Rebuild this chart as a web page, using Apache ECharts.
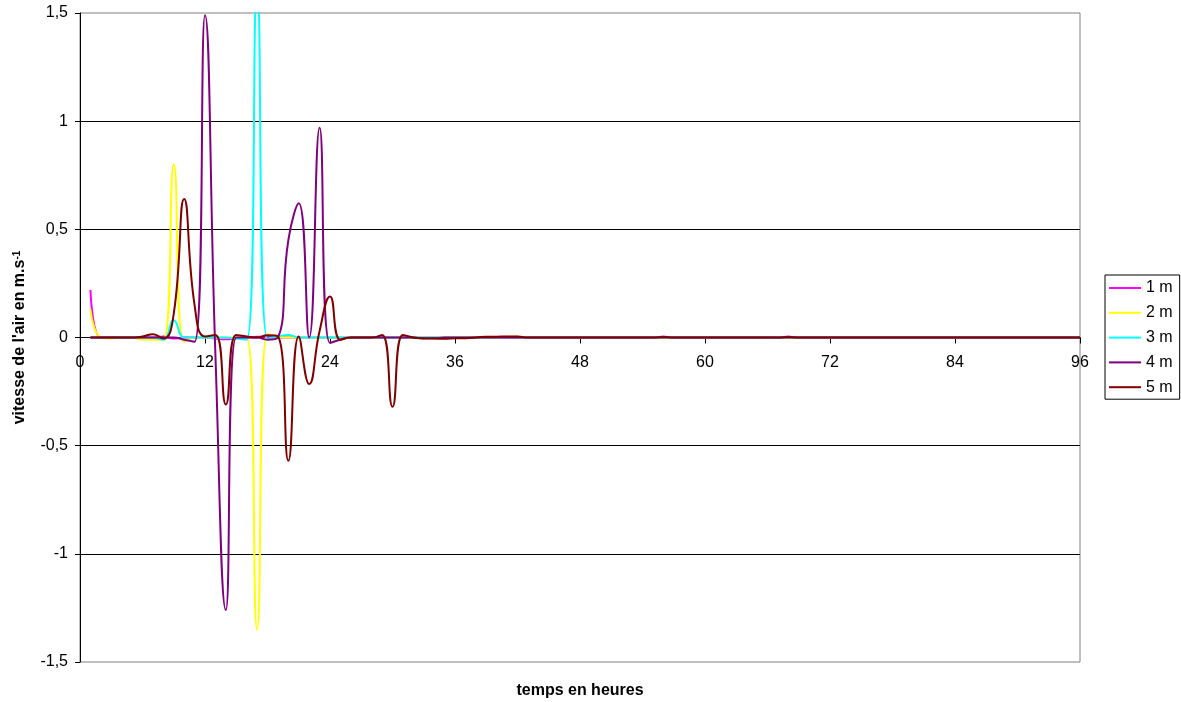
<!DOCTYPE html>
<html><head><meta charset="utf-8">
<script src="https://cdn.jsdelivr.net/npm/echarts@6/dist/echarts.min.js"></script>
<style>html,body{margin:0;padding:0;background:#fff}#c{width:1181px;height:702px}</style>
</head><body><div id="c"></div>
<script>
const hours = [1,2,3,4,5,6,7,8,9,10,11,12,13,14,15,16,17,18,19,20,21,22,23,24,
  25,26,27,28,29,30,31,32,33,34,35,36,37,38,39,40,41,42,43,44,45,46,47,48,
  49,50,51,52,53,54,55,56,57,58,59,60,61,62,63,64,65,66,67,68,69,70,71,72,
  73,74,75,76,77,78,79,80,81,82,83,84,85,86,87,88,89,90,91,92,93,94,95,96];

const v1m = [0.22,0,0,0,0,0,0,0.005,-0.005,0,0,0,
  -0.005,-0.008,-0.003,0,0.003,0.005,0,0,0,0,0,0,
  0,0,0,0,0,0,0,0,0,0,0,0,
  0,0,0,0,0,0,0,0,0,0,0,0,
  0,0,0,0,0,0,0,0.004,0,0,0,0,
  0,0,0,0,0,0,0,0.004,0,0,0,0,
  0,0,0,0,0,0,0,0,0,0,0,0,
  0,0,0,0,0,0,0,0,0,0,0,0];

const v2m = [0.13,0,-0.005,0,0,-0.01,-0.01,-0.01,0.8,-0.02,0,0,
  0,0,0,0,-1.35,0.015,0.005,0,0,0,0,0,
  0,0,0,0,0,0,0,0,0,0,0,0,
  0,0,0,0,0.003,0.003,0,0,0,0,0,0,
  0,0,0,0,0,0,0,0,0,0,0,0,
  0,0,0,0,0,0,0,0,0,0,0,0,
  0,0,0,0,0,0,0,0,0,0,0,0,
  0,0,0,0,0,0,0,0,0,0,0,0];

const v3m = [0,0,0,0,0,0,0,-0.01,0.08,0,0,0,
  0,0,-0.005,-0.01,1.62,-0.005,0.005,0.012,0,0,0,0,
  0,0,0,0,0,0,0,0,0,0,0,0,
  0,0,0,0,0,0,0,0,0,0,0,0,
  0,0,0,0,0,0,0,0,0,0,0,0,
  0,0,0,0,0,0,0,0,0,0,0,0,
  0,0,0,0,0,0,0,0,0,0,0,0,
  0,0,0,0,0,0,0,0,0,0,0,0];

const v4m = [0,0,0,0,0,0,0,0,0,-0.01,-0.02,1.49,
  -0.08,-1.26,0,0,0,-0.01,0,0.45,0.62,0,0.97,-0.025,
  -0.01,0,0,0,0,0,0,0,-0.004,-0.004,0,0,
  0,0,0,0,0,0,0,0,0,0,0,0,
  0,0,0,0,0,0,0,0.003,0,0,0,0,
  0,0,0,0,0,0,0,0.003,0,0,0,0,
  0,0,0,0,0,0,0,0,0,0,0,0,
  0,0,0,0,0,0,0,0,0,0,0,0];

const v5m = [0,0,0,0,0,0.005,0.015,-0.005,0.11,0.64,0.15,0.005,
  0.012,-0.31,0.012,0.005,0,0.01,0.005,-0.57,0.005,-0.215,0.03,0.19,
  -0.01,0,0,0,0.012,-0.32,0.012,0,-0.005,-0.005,-0.006,-0.004,
  -0.003,0,0.004,0.004,0.005,0.005,0,0,0,0,0,0,
  0,0,0,0,0,0,0,0,0,0,0,0,
  0,0,0,0,0,0,0,0,0,0,0,0,
  0,0,0,0,0,0,0,0,0,0,0,0,
  0,0,0,0,0,0,0,0,0,0,0,0];

const seriesNames = ['1 m','2 m','3 m','4 m','5 m'];
const seriesValues = [v1m, v2m, v3m, v4m, v5m];
const seriesColors = ['#FF00FF','#FFFF00','#00FFFF','#800080','#800000'];
const xTitle = 'temps en heures';
const yTitleMain = "vitesse de l'air en m.s";
const yTitleSup = '-1';

const FONT = "'Liberation Sans', Arial, sans-serif";
const chart = echarts.init(document.getElementById('c'));
chart.setOption({
  animation: false,
  backgroundColor: '#fff',
  textStyle: { fontFamily: FONT },
  grid: { left: 80, right: 101, top: 13, bottom: 40, show: true,
          borderColor: '#808080', borderWidth: 1, outerBoundsMode: 'none' },
  legend: {
    orient: 'vertical', left: 1105, top: 275,
    icon: 'rect',
    itemWidth: 32, itemHeight: 2, itemGap: 8.8,
    padding: [5, 7, 4, 4],
    borderColor: '#000', borderWidth: 1,
    textStyle: { fontSize: 16, color: '#000', fontFamily: FONT },
    data: seriesNames
  },
  xAxis: {
    type: 'value', min: 0, max: 96, interval: 12,
    axisLine: { onZero: true, lineStyle: { color: '#000', width: 1 } },
    axisTick: { show: true, length: 6, lineStyle: { color: '#000' } },
    axisLabel: { fontSize: 16, color: '#000', margin: -307, fontFamily: FONT },
    splitLine: { show: false },
    name: xTitle, nameLocation: 'middle', nameGap: 21,
    nameTextStyle: { fontWeight: 'bold', fontSize: 16, color: '#000', fontFamily: FONT }
  },
  yAxis: {
    type: 'value', min: -1.5, max: 1.5, interval: 0.5,
    axisLine: { show: true, lineStyle: { color: '#000', width: 1 } },
    axisTick: { show: true, length: 5, lineStyle: { color: '#000' } },
    axisLabel: { fontSize: 16, color: '#000', margin: 12, fontFamily: FONT,
                 formatter: v => String(v).replace('.', ',') },
    splitLine: { show: true, showMinLine: false, showMaxLine: false,
                 lineStyle: { color: '#000', width: 1 } },
    name: '{a|' + yTitleMain + '}{b|' + yTitleSup + '}',
    nameLocation: 'middle', nameGap: 52, nameRotate: 90,
    nameTextStyle: {
      fontWeight: 'bold', fontSize: 16, color: '#000', fontFamily: FONT,
      rich: {
        a: { fontWeight: 'bold', fontSize: 16, color: '#000', fontFamily: FONT },
        b: { fontWeight: 'bold', fontSize: 10, color: '#000', fontFamily: FONT, verticalAlign: 'top' }
      }
    }
  },
  series: seriesNames.map((n, i) => ({
    name: n, type: 'line', smooth: 0.5, symbol: 'none', clip: true,
    color: seriesColors[i],
    lineStyle: { color: seriesColors[i], width: 2 },
    data: hours.map((h, k) => [h, seriesValues[i][k]])
  }))
});
</script></body></html>
